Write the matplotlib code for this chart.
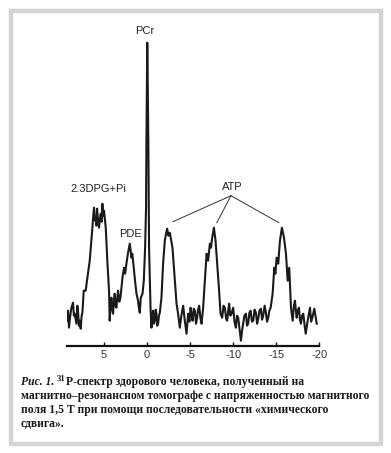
import matplotlib
matplotlib.use("Agg")
import matplotlib.pyplot as plt
from matplotlib.patches import Rectangle

W, H = 391, 453

# 31P spectrum: chemical shift (ppm) and signal (a.u.)
ppm = [9.30, 9.18, 9.07, 8.95, 8.79, 8.60, 8.50, 8.41, 8.21, 8.10, 8.02, 7.92, 7.83, 7.71, 7.60, 7.51,
       7.36, 7.13, 6.98, 6.66, 6.50, 6.35, 6.25, 6.16, 6.05, 5.97, 5.88, 5.81, 5.70, 5.58, 5.48, 5.38,
       5.28, 5.19, 5.10, 5.00, 4.80, 4.60, 4.42, 4.34, 4.24, 4.14, 4.05, 3.95, 3.85, 3.76, 3.66, 3.56,
       3.47, 3.37, 3.23, 3.09, 2.86, 2.67, 2.55, 2.40, 2.21, 2.01, 1.81, 1.72, 1.63, 1.40,
       1.23, 1.05, 0.95, 0.85, 0.73, 0.53, 0.38, 0.23, 0.12, 0.08, 0.02,
       -0.02, -0.08, -0.15, -0.23, -0.40, -0.51, -0.60, -0.70, -0.80, -0.90, -1.00, -1.09, -1.18, -1.28,
       -1.38, -1.48, -1.67, -1.86, -2.06, -2.20, -2.33, -2.48, -2.64, -2.95, -3.22, -3.42, -3.60,
       -3.80, -3.98, -4.19, -4.38, -4.58, -4.77, -4.92, -5.05, -5.18, -5.28, -5.42, -5.55, -5.68, -5.81, -5.92, -6.05,
       -6.20, -6.33, -6.51, -6.71, -6.91, -7.09, -7.29, -7.42, -7.56, -7.76, -7.95, -8.14,
       -8.34, -8.53, -8.72, -8.88, -9.03, -9.18, -9.30, -9.42, -9.53, -9.67, -9.81, -10.00, -10.15, -10.31, -10.45, -10.58,
       -10.90, -11.03, -11.16, -11.30, -11.48, -11.60, -11.74, -11.88, -12.02, -12.18, -12.33, -12.48, -12.64, -12.78, -12.91,
       -13.05, -13.22, -13.35, -13.49, -13.65, -13.80, -13.93, -14.07, -14.20, -14.35, -14.58, -14.77, -14.90, -15.05, -15.23,
       -15.43, -15.66, -15.90, -16.13, -16.33, -16.51, -16.71, -16.91, -17.05, -17.17, -17.37, -17.50, -17.64, -17.75,
       -17.87, -18.00, -18.14, -18.30, -18.42, -18.65, -18.80, -18.92, -19.05, -19.19, -19.42, -19.55, -19.70]
signal = [25, 35, 18, 28, 38, 43, 30, 32, 22, 40, 35, 20, 25, 17, 30, 33,
          55, 55, 65, 85, 102, 118, 130, 138, 125, 128, 120, 137, 126, 118, 127, 132,
          124, 142, 130, 135, 118, 82, 55, 25, 42, 48, 36, 32, 45, 52, 40, 38,
          47, 55, 44, 48, 68, 78, 72, 82, 93, 102, 88, 92, 85, 65,
          52, 45, 38, 33, 48, 52, 65, 98, 138, 200, 270,
          303, 260, 200, 98, 38, 18, 30, 35, 22, 25, 36, 32, 20, 22,
          30, 33, 48, 82, 105, 112, 117, 110, 113, 98, 65, 42, 32,
          18, 30, 40, 25, 12, 32, 24, 38, 30, 25, 37, 35, 22, 28, 36, 40,
          27, 22, 38, 65, 92, 85, 102, 98, 108, 118, 105, 82,
          58, 32, 28, 40, 38, 27, 25, 35, 42, 30, 32, 38, 24, 18, 30, 28,
          5, 15, 22, 30, 32, 20, 22, 33, 35, 24, 25, 36, 33, 22, 27,
          35, 37, 26, 30, 40, 33, 24, 28, 35, 38, 52, 78, 72, 88, 82,
          105, 118, 108, 92, 65, 78, 38, 25, 40, 45, 28, 35, 38, 26,
          22, 30, 32, 20, 12, 25, 32, 38, 24, 28, 37, 30, 22]

tick_pos = [5, 0, -5, -10, -15, -20]
tick_labels = ["5", "0", "-5", "-10", "-15", "-20"]

# peak names and where they sit
peak_names = ["PCr", "2.3DPG+Pi", "PDE", "ATP"]
name_ppm = [0.3, 5.6, 1.9, -9.85]
name_sig = [315, 157, 112, 159]
# ATP leader lines: from the label to the three ATP peaks
atp_from = (-9.74, 150)
atp_ppm = [-3.0, -8.1, -15.3]
atp_sig = [124, 123, 123]

caption = ["магнитно–резонансном томографе с напряженностью магнитного",
           "поля 1,5 Т при помощи последовательности «химического",
           "сдвига»."]

fig = plt.figure(figsize=(W / 100, H / 100), dpi=100)

# grey frame round the whole figure
fig.patches.append(Rectangle((11 / W, 1 - 444 / H), 370 / W, 433 / H,
                             transform=fig.transFigure, fill=False,
                             edgecolor="#d4d4d4", linewidth=3.2))

ax = fig.add_axes([67 / W, (H - 345.7) / H, 252.3 / W, 320 / H])
ax.plot(ppm, signal, color="#1a1a1a", linewidth=1.5)
ax.set_xlim(9.3, -20)
ax.set_ylim(0, 320)

for s in ["left", "top", "right"]:
    ax.spines[s].set_visible(False)
ax.spines["bottom"].set_linewidth(1.6)
ax.spines["bottom"].set_color("#111111")
ax.set_yticks([])
ax.set_xticks(tick_pos)
ax.set_xticklabels(tick_labels, fontfamily="Liberation Sans", fontsize=8, color="#333333")
ax.tick_params(axis="x", direction="in", length=3, width=1, pad=3, color="#111111")

for name, xp, yp in zip(peak_names, name_ppm, name_sig):
    ax.text(xp, yp, name, ha="center", va="center", fontfamily="Liberation Sans",
            fontsize=8, color="#222222")
for xp, yp in zip(atp_ppm, atp_sig):
    ax.plot([atp_from[0], xp], [atp_from[1], yp], color="#333333", linewidth=0.7)

# caption, placed piece by piece
fig.canvas.draw()
r = fig.canvas.get_renderer()


def put(x, y, s, **kw):
    t = fig.text(x / W, 1 - y / H, s, va="center", ha="left",
                 fontfamily="Liberation Serif", color="#1a1a1a", **kw)
    return t.get_window_extent(renderer=r).x1


fs = 8.4
x = put(21, 382, "Рис. 1.", fontsize=fs, fontweight="bold", fontstyle="italic")
x = put(x + 2.5, 379, "31", fontsize=6.3, fontweight="bold")
put(x + 0.5, 382, "P-спектр здорового человека, полученный на", fontsize=fs, fontweight="bold")
for i, line in enumerate(caption):
    put(21, 396 + 14 * i, line, fontsize=fs, fontweight="bold")

fig.savefig("out.png", dpi=100)
